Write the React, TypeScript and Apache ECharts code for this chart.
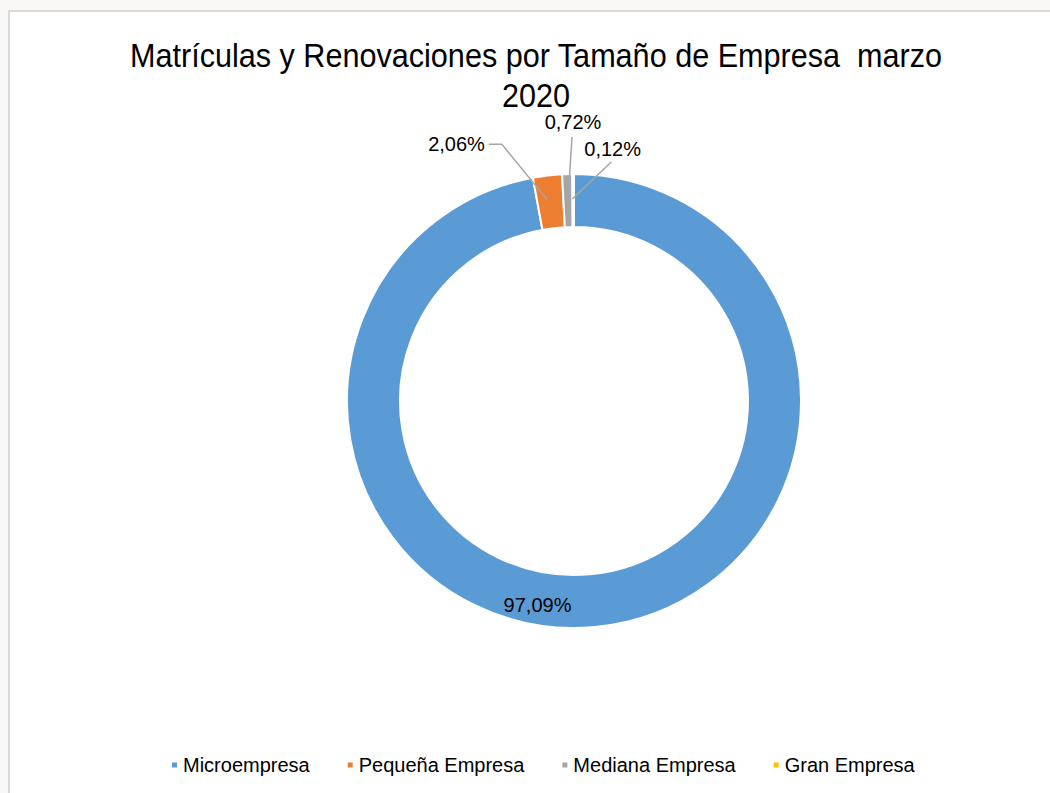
import React, { useEffect, useRef } from "react";
import * as echarts from "echarts";

const categories = ["Microempresa", "Pequeña Empresa", "Mediana Empresa", "Gran Empresa"];
const shares = [97.09, 2.06, 0.72, 0.12];
const colors = ["#5B9BD5", "#ED7D31", "#A5A5A5", "#FFC000"];
const titleText = "Matrículas y Renovaciones por Tamaño de Empresa  marzo\n2020";

const FONT = '"Liberation Sans Narrow", "Liberation Sans", Arial, sans-serif';

export default function App() {
  const ref = useRef<HTMLDivElement>(null);
  useEffect(() => {
    document.body.style.margin = "0";
    document.body.style.background = "#f9f8f6";
    const chart = echarts.init(ref.current!, undefined, { renderer: "svg" });
    const fmt = (v: number) => v.toFixed(2).replace(".", ",") + "%";
    const common = {
      type: "pie",
      center: [574, 401],
      radius: [174, 227],
      startAngle: 90,
      clockwise: true,
      avoidLabelOverlap: false,
    };
    chart.setOption({
      animation: false,
      backgroundColor: "#f9f8f6",
      color: colors,
      graphic: [
        {
          type: "rect",
          z: -10,
          silent: true,
          shape: { x: 9, y: 11, width: 1060, height: 800 },
          style: { fill: "#ffffff", stroke: "#d9d9d9", lineWidth: 2 },
        },
        {
          type: "text",
          silent: true,
          x: 536,
          y: 35,
          scaleX: 0.9,
          style: {
            text: titleText,
            font: `34px ${FONT}`,
            fill: "#000000",
            textAlign: "center",
            textVerticalAlign: "top",
            lineHeight: 40,
          },
        },
      ],
      legend: {
        data: categories,
        left: 165,
        top: 750,
        icon: "rect",
        itemWidth: 7,
        itemHeight: 7,
        itemGap: 36,
        textStyle: { fontFamily: FONT, fontSize: 20, color: "#000000" },
      },
      series: [
        {
          ...common,
          z: 2,
          itemStyle: { borderColor: "#ffffff", borderWidth: 2 },
          label: { show: false },
          labelLine: { show: false },
          data: categories.map((name, i) => ({ name, value: shares[i] })),
        },
        {
          ...common,
          z: 4,
          silent: true,
          itemStyle: { color: "rgba(0,0,0,0)", borderColor: "rgba(0,0,0,0)", borderWidth: 2 },
          emphasis: { disabled: true },
          label: {
            show: true,
            position: "outside",
            formatter: (p: any) => fmt(p.value),
            fontFamily: FONT,
            fontSize: 20,
            color: "#000000",
          },
          labelLine: {
            show: true,
            showAbove: true,
            length: 20,
            length2: 10,
            lineStyle: { color: "#A6A6A6", width: 1.5 },
          },
          labelLayout: (p: any) => {
            const r = p.rect;
            if (p.dataIndex === 0) return { dx: -55, dy: 1 };
            if (p.dataIndex === 1)
              return {
                x: r.x - 47,
                y: r.y - 29,
                align: "right",
                verticalAlign: "middle",
                labelLinePoints: [
                  [r.x - 43, r.y - 29],
                  [r.x - 30, r.y - 29],
                  [r.x + 15, r.y + 26],
                ],
              };
            if (p.dataIndex === 2)
              return {
                x: r.x + 12,
                y: r.y - 51,
                align: "center",
                verticalAlign: "middle",
                labelLinePoints: [
                  [r.x + 11, r.y - 36],
                  [r.x + 9, r.y - 5],
                  [r.x + 7, r.y + 26],
                ],
              };
            return {
              x: r.x + 13,
              y: r.y - 24,
              align: "left",
              verticalAlign: "middle",
              labelLinePoints: [
                [r.x + 40, r.y - 11],
                [r.x + 20, r.y + 8],
                [r.x + 1, r.y + 26],
              ],
            };
          },
          data: categories.map((name, i) => ({
            name,
            value: shares[i],
            ...(i === 0
              ? { label: { position: "inside" }, labelLine: { show: false } }
              : {}),
          })),
        },
      ],
    });
    return () => chart.dispose();
  }, []);
  return <div ref={ref} style={{ width: 1050, height: 793 }} />;
}
